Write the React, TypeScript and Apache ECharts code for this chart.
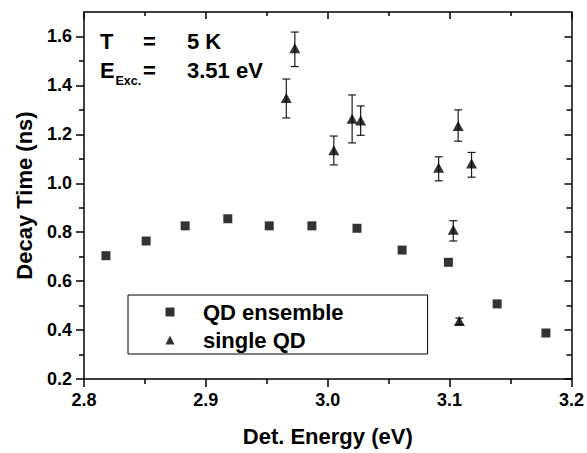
import React, { useEffect, useRef } from "react";
import * as echarts from "echarts";

// QD ensemble (squares)
const ensembleEnergy = [2.818, 2.851, 2.883, 2.918, 2.952, 2.987, 3.024, 3.061, 3.099, 3.139, 3.179];
const ensembleDecay = [0.704, 0.764, 0.826, 0.855, 0.826, 0.826, 0.816, 0.727, 0.677, 0.507, 0.388];

// single QD (triangles) with error bars
const singleEnergy = [2.966, 2.973, 3.005, 3.020, 3.027, 3.091, 3.103, 3.107, 3.108, 3.118];
const singleDecay = [1.348, 1.552, 1.135, 1.264, 1.257, 1.063, 0.810, 1.234, 0.437, 1.081];
const singleErrLow = [0.081, 0.075, 0.060, 0.099, 0.061, 0.053, 0.046, 0.062, 0.015, 0.056];
const singleErrHigh = [0.078, 0.066, 0.058, 0.097, 0.059, 0.045, 0.037, 0.066, 0.012, 0.045];

const yMajorTicks = [0.2, 0.4, 0.6, 0.8, 1.0, 1.2, 1.4, 1.6];
const yMinorTicks = [0.3, 0.5, 0.7, 0.9, 1.1, 1.3, 1.5];

const FONT = "'Liberation Sans', Arial, Helvetica, sans-serif";

export default function App() {
  const ref = useRef<HTMLDivElement>(null);
  useEffect(() => {
    document.body.style.margin = "0";
    const chart = echarts.init(ref.current!, null, { renderer: "svg" });
    const lineStyle = { color: "#000", width: 1.5 };
    const baseX = { type: "value", min: 2.8, max: 3.2, interval: 0.1, splitLine: { show: false } };
    const baseY = { type: "value", min: 0.2, max: 1.7, splitLine: { show: false } };
    const option: any = {
      animation: false,
      backgroundColor: "#fff",
      grid: { left: 84, right: 14, top: 12, bottom: 74, containLabel: false },
      xAxis: [
        {
          ...baseX,
          position: "bottom",
          axisLine: { show: true, lineStyle },
          axisTick: { show: true, inside: false, length: 8, lineStyle: { color: "#000", width: 1.5 } },
          minorTick: { show: true, splitNumber: 2, length: 5, lineStyle: { color: "#000", width: 1.5 } },
          axisLabel: {
            show: true,
            margin: 12,
            fontSize: 18,
            fontWeight: "bold",
            fontFamily: FONT,
            color: "#000",
            formatter: (v: number) => v.toFixed(1),
          },
          name: "Det. Energy (eV)",
          nameLocation: "middle",
          nameGap: 46,
          nameTextStyle: { fontSize: 22, fontWeight: "bold", fontFamily: FONT, color: "#000" },
        },
        {
          ...baseX,
          position: "top",
          axisLine: { show: true, lineStyle },
          axisTick: { show: true, inside: true, length: 7, lineStyle: { color: "#000", width: 1.5 } },
          minorTick: { show: true, splitNumber: 2, length: 4, lineStyle: { color: "#000", width: 1.5 } },
          axisLabel: { show: false },
        },
      ],
      yAxis: [
        {
          ...baseY,
          position: "left",
          interval: 0.2,
          axisLine: { show: true, lineStyle },
          axisTick: {
            show: true,
            inside: false,
            length: 8,
            customValues: yMajorTicks,
            lineStyle: { color: "#000", width: 1.5 },
          },
          axisLabel: {
            show: true,
            margin: 12,
            fontSize: 18,
            fontWeight: "bold",
            fontFamily: FONT,
            color: "#000",
            customValues: yMajorTicks,
            formatter: (v: number) => v.toFixed(1),
          },
          name: "Decay Time (ns)",
          nameLocation: "middle",
          nameGap: 49,
          nameTextStyle: { fontSize: 22, fontWeight: "bold", fontFamily: FONT, color: "#000" },
        },
        {
          ...baseY,
          position: "left",
          interval: 0.1,
          axisLine: { show: false },
          axisTick: {
            show: true,
            inside: false,
            length: 5,
            customValues: yMinorTicks,
            lineStyle: { color: "#000", width: 1.5 },
          },
          axisLabel: { show: false },
        },
        {
          ...baseY,
          position: "right",
          interval: 0.2,
          axisLine: { show: true, lineStyle },
          axisTick: {
            show: true,
            inside: true,
            length: 7,
            customValues: yMajorTicks,
            lineStyle: { color: "#000", width: 1.5 },
          },
          axisLabel: { show: false },
        },
        {
          ...baseY,
          position: "right",
          interval: 0.1,
          axisLine: { show: false },
          axisTick: {
            show: true,
            inside: true,
            length: 5,
            customValues: yMinorTicks,
            lineStyle: { color: "#000", width: 1.5 },
          },
          axisLabel: { show: false },
        },
      ],
      legend: {
        show: true,
        orient: "vertical",
        left: 128,
        top: 295,
        padding: [6, 84, 3, 37.5],
        itemGap: 6,
        itemWidth: 9,
        itemHeight: 9,
        borderColor: "#000",
        borderWidth: 1,
        borderRadius: 0,
        backgroundColor: "#fff",
        textStyle: {
          fontSize: 22,
          fontWeight: "bold",
          fontFamily: FONT,
          color: "#000",
          padding: [0, 0, 0, 23.5],
        },
        data: [
          { name: "QD ensemble", icon: "rect" },
          { name: "single QD", icon: "triangle" },
        ],
      },
      graphic: [
        { type: "text", x: 100, y: 41.5, style: { text: "T", font: `bold 22px ${FONT}`, fill: "#000", verticalAlign: "middle" } },
        { type: "text", x: 143, y: 41.5, style: { text: "=", font: `bold 22px ${FONT}`, fill: "#000", verticalAlign: "middle" } },
        { type: "text", x: 187, y: 41.5, style: { text: "5 K", font: `bold 22px ${FONT}`, fill: "#000", verticalAlign: "middle" } },
        { type: "text", x: 100, y: 70, style: { text: "E", font: `bold 22px ${FONT}`, fill: "#000", verticalAlign: "middle" } },
        { type: "text", x: 115.5, y: 81, style: { text: "Exc.", font: `bold 12.5px ${FONT}`, fill: "#000", verticalAlign: "middle" } },
        { type: "text", x: 143, y: 70, style: { text: "=", font: `bold 22px ${FONT}`, fill: "#000", verticalAlign: "middle" } },
        { type: "text", x: 187, y: 70, style: { text: "3.51 eV", font: `bold 22px ${FONT}`, fill: "#000", verticalAlign: "middle" } },
      ],
      series: [
        {
          name: "error bars",
          type: "custom",
          xAxisIndex: 0,
          yAxisIndex: 0,
          data: singleEnergy.map((x, i) => [x, singleDecay[i] - singleErrLow[i], singleDecay[i] + singleErrHigh[i]]),
          encode: { x: 0, y: [1, 2] },
          z: 2,
          renderItem: (params: any, api: any) => {
            const x = api.value(0);
            const top = api.coord([x, api.value(2)]);
            const bot = api.coord([x, api.value(1)]);
            const cap = 4;
            const st = { stroke: "#1a1a1a", lineWidth: 1.2 };
            return {
              type: "group",
              children: [
                { type: "line", shape: { x1: top[0], y1: top[1], x2: bot[0], y2: bot[1] }, style: st },
                { type: "line", shape: { x1: top[0] - cap, y1: top[1], x2: top[0] + cap, y2: top[1] }, style: st },
                { type: "line", shape: { x1: bot[0] - cap, y1: bot[1], x2: bot[0] + cap, y2: bot[1] }, style: st },
              ],
            };
          },
        },
        {
          name: "QD ensemble",
          type: "scatter",
          xAxisIndex: 0,
          yAxisIndex: 0,
          symbol: "rect",
          symbolSize: 9,
          itemStyle: { color: "#000" },
          data: ensembleEnergy.map((x, i) => [x, ensembleDecay[i]]),
          z: 3,
        },
        {
          name: "single QD",
          type: "scatter",
          xAxisIndex: 0,
          yAxisIndex: 0,
          symbol: "triangle",
          symbolSize: [11, 10],
          itemStyle: { color: "#000" },
          data: singleEnergy.map((x, i) => [x, singleDecay[i]]),
          z: 3,
        },
      ],
    };
    chart.setOption(option);
    return () => chart.dispose();
  }, []);
  return <div ref={ref} style={{ width: 587, height: 453 }} />;
}
